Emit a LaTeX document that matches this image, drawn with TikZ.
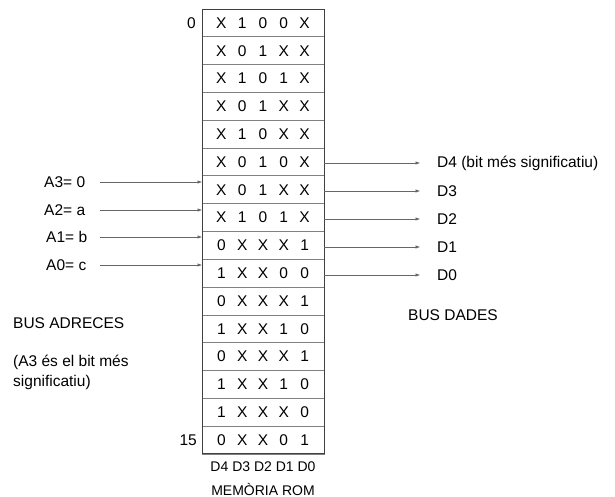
\documentclass[tikz,border=0pt]{standalone}
\usepackage{fontspec}
\setmainfont{Liberation Sans}
\usetikzlibrary{positioning,arrows.meta}

% one row of the ROM: five bits in fixed columns
\newcommand{\rombits}[5]{\makebox[20.8pt]{#1}\makebox[20.8pt]{#2}\makebox[20.8pt]{#3}\makebox[20.8pt]{#4}\makebox[20.8pt]{#5}}

\tikzset{
	romrow/.style={draw=black!50, line width=0.6pt, minimum width=122pt, minimum height=27.8pt,
		inner sep=0pt, outer sep=0pt, font=\fontsize{15.5}{18}\selectfont},
	lbl/.style={inner sep=0pt, font=\fontsize{15.5}{20}\selectfont},
	small/.style={inner sep=0pt, font=\fontsize{14}{16}\selectfont},
	bus/.style={draw=black!60, line width=0.6pt, -{Latex[length=4.5pt,width=3.5pt]}}
}

\begin{document}
\begin{tikzpicture}[x=1pt, y=-1pt]
				\useasboundingbox (0,0) rectangle (615,497);

				% ROM
				\node[romrow] (r0) at (263,22.9) {\rombits X100X};
				\node[romrow, below=0pt of r0] (r1) {\rombits X01XX};
				\node[romrow, below=0pt of r1] (r2) {\rombits X101X};
				\node[romrow, below=0pt of r2] (r3) {\rombits X01XX};
				\node[romrow, below=0pt of r3] (r4) {\rombits X10XX};
				\node[romrow, below=0pt of r4] (r5) {\rombits X010X};
				\node[romrow, below=0pt of r5] (r6) {\rombits X01XX};
				\node[romrow, below=0pt of r6] (r7) {\rombits X101X};
				\node[romrow, below=0pt of r7] (r8) {\rombits 0XXX1};
				\node[romrow, below=0pt of r8] (r9) {\rombits 1XX00};
				\node[romrow, below=0pt of r9] (r10) {\rombits 0XXX1};
				\node[romrow, below=0pt of r10] (r11) {\rombits 1XX10};
				\node[romrow, below=0pt of r11] (r12) {\rombits 0XXX1};
				\node[romrow, below=0pt of r12] (r13) {\rombits 1XX10};
				\node[romrow, below=0pt of r13] (r14) {\rombits 1XXX0};
				\node[romrow, below=0pt of r14] (r15) {\rombits 0XX01};
				\draw[black!75, line width=0.7pt] (r0.north west) rectangle (r15.south east);

				\node[lbl, left=6pt of r0] (pos0) {0};
				\node[lbl, left=5pt of r15] (pos15) {15};
				\node[small, below=8pt of r15] (dbits) {D4 D3 D2 D1 D0};
				\node[small, below=11pt of dbits] (rom) {MEMÒRIA ROM};

				% Bus adreces
				\coordinate (ain) at (100,0);
				\node[lbl, anchor=west] (a3) at (44,182) {A3= 0};
				\node[lbl, anchor=west] (a2) at (44,210) {A2= a};
				\node[lbl, anchor=west] (a1) at (46,237) {A1= b};
				\node[lbl, anchor=west] (a0) at (46,265) {A0= c};
				\draw[bus] (ain |- a3) -- (r6.west |- a3);
				\draw[bus] (ain |- a2) -- (r7.west |- a2);
				\draw[bus] (ain |- a1) -- (r8.west |- a1);
				\draw[bus] (ain |- a0) -- (r9.west |- a0);
				\node[lbl, anchor=west] (busadr) at (13,323) {BUS ADRECES};
				\node[lbl, anchor=west, align=left] (msb) at (13,372) {(A3 és el bit més\\significatiu)};

				% Bus dades
				\node[lbl, anchor=west] (d4) at (437,163) {D4 (bit més significatiu)};
				\node[lbl, anchor=west] (d3) at (437,191) {D3};
				\node[lbl, anchor=west] (d2) at (437,219) {D2};
				\node[lbl, anchor=west] (d1) at (437,247) {D1};
				\node[lbl, anchor=west] (d0) at (437,275) {D0};
				\draw[bus, shorten >=17pt] (r5.east |- d4) -- (d4.west);
				\draw[bus, shorten >=17pt] (r6.east |- d3) -- (d3.west);
				\draw[bus, shorten >=17pt] (r7.east |- d2) -- (d2.west);
				\draw[bus, shorten >=17pt] (r8.east |- d1) -- (d1.west);
				\draw[bus, shorten >=17pt] (r9.east |- d0) -- (d0.west);
				\node[lbl, anchor=west] (busdad) at (408,315) {BUS DADES};
\end{tikzpicture}
\end{document}
